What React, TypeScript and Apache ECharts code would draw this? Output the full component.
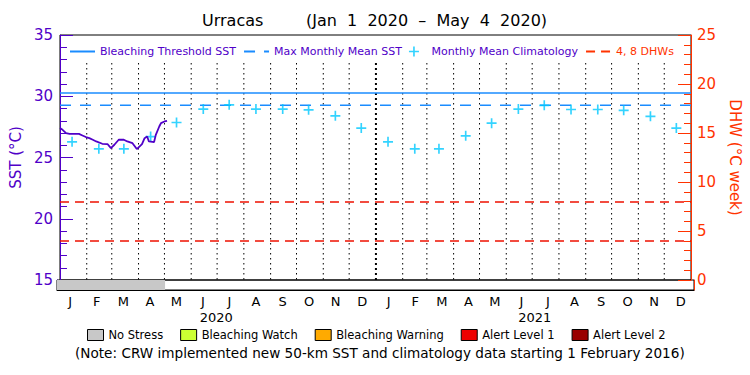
import React, { useEffect, useRef } from "react";
import * as echarts from "echarts";

const FONT = "DejaVu Sans";
const PURPLE = "#5000c8";
const RED = "#ff3300";
const DHW_RED = "#ee1100";
const BLUE = "#1a8cff";
const CYAN = "#00c8ff";

const START = "2020-01-01";
const END = "2022-01-01";

// SST (°C) observed, Jan 1 – May 4 2020
const sstDates = [
  "2020-01-01", "2020-01-04", "2020-01-08", "2020-01-12", "2020-01-23", "2020-01-27",
  "2020-01-31", "2020-02-04", "2020-02-08", "2020-02-12", "2020-02-19", "2020-02-25",
  "2020-02-29", "2020-03-04", "2020-03-09", "2020-03-15", "2020-03-19", "2020-03-25",
  "2020-03-30", "2020-04-05", "2020-04-08", "2020-04-11", "2020-04-13", "2020-04-19",
  "2020-04-21", "2020-04-25", "2020-04-27", "2020-05-01", "2020-05-04",
];
const sstValues = [
  27.4, 27.26, 26.99, 26.93, 26.93, 26.8,
  26.67, 26.58, 26.45, 26.31, 26.12, 26.1,
  25.77, 26.04, 26.45, 26.45, 26.31, 26.17,
  25.69, 26.1, 26.58, 26.71, 26.31, 26.26,
  26.85, 27.53, 27.81, 27.94, 27.99,
];

// Monthly mean climatology (plotted mid-month)
const climDates = [
  "2020-01-15", "2020-02-15", "2020-03-15", "2020-04-15", "2020-05-15", "2020-06-15",
  "2020-07-15", "2020-08-15", "2020-09-15", "2020-10-15", "2020-11-15", "2020-12-15",
  "2021-01-15", "2021-02-15", "2021-03-15", "2021-04-15", "2021-05-15", "2021-06-15",
  "2021-07-15", "2021-08-15", "2021-09-15", "2021-10-15", "2021-11-15", "2021-12-15",
];
const climValues = [
  26.28, 25.71, 25.71, 26.71, 27.86, 28.95, 29.3, 28.95, 28.95, 28.89, 28.4, 27.4,
  26.28, 25.71, 25.71, 26.77, 27.8, 28.95, 29.26, 28.92, 28.92, 28.85, 28.36, 27.4,
];

const MMM = 29.27; // Max Monthly Mean SST
const BLEACH_THRESHOLD = 30.27;
const dhwLevels = [4, 8];

// Month boundaries (dotted lines); the year boundary is drawn denser
const monthStarts = [
  "2020-02-01", "2020-03-01", "2020-04-01", "2020-05-01", "2020-06-01", "2020-07-01",
  "2020-08-01", "2020-09-01", "2020-10-01", "2020-11-01", "2020-12-01", "2021-01-01",
  "2021-02-01", "2021-03-01", "2021-04-01", "2021-05-01", "2021-06-01", "2021-07-01",
  "2021-08-01", "2021-09-01", "2021-10-01", "2021-11-01", "2021-12-01",
];
const yearBoundary = "2021-01-01";

const monthNames = ["Jan", "Feb", "Mar", "Apr", "May", "Jun", "Jul", "Aug", "Sep", "Oct", "Nov", "Dec"];
const years = ["2020", "2021"];

const sstTicks = { min: 15, max: 35, interval: 5 };
const dhwTicks = { min: 0, max: 25, interval: 5 };

// Stress level periods
const stressNames = ["No Stress", "Bleaching Watch", "Bleaching Warning", "Alert Level 1", "Alert Level 2"];
const stressColors = ["#c8c8c8", "#ccff33", "#ffaa00", "#ee0000", "#990000"];
const stressPeriods = [{ start: "2020-01-01", end: "2020-05-04", level: 0 }];

const TITLE_SITE = "Urracas";
const TITLE_RANGE = "(Jan  1  2020  –  May  4  2020)";
const NOTE = "(Note: CRW implemented new 50-km SST and climatology data starting 1 February 2016)";

const t = (s: string) => Date.parse(s);

const PLUS = "path://M5,0H7V5H12V7H7V12H5V7H0V5H5Z";
const HIDDEN_SYMBOL = { color: "rgba(0,0,0,0)", borderColor: "rgba(0,0,0,0)", borderWidth: 0, opacity: 0 };

export default function App() {
  const ref = useRef<HTMLDivElement>(null);
  useEffect(() => {
    if (!ref.current) return;
    const chart = echarts.init(ref.current, null, { renderer: "svg" });
    const categories: string[] = [];
    years.forEach((y) => monthNames.forEach((m) => categories.push(m + " " + y)));

    const stressSeries = stressNames.map((name, li) => ({
      name,
      type: "custom",
      xAxisIndex: 1,
      yAxisIndex: 2,
      itemStyle: { color: stressColors[li] },
      data: stressPeriods.filter((p) => p.level === li).map((p) => [t(p.start), t(p.end), 0.5]),
      encode: { x: [0, 1], y: 2 },
      renderItem: (params: any, api: any) => {
        const cs = params.coordSys;
        const x1 = api.coord([api.value(0), 0.5])[0];
        const x2 = api.coord([api.value(1), 0.5])[0];
        return {
          type: "rect",
          shape: { x: x1, y: cs.y, width: x2 - x1, height: cs.height },
          style: { fill: api.visual("color") },
        };
      },
      silent: true,
    }));

    const option: any = {
      animation: false,
      backgroundColor: "#fff",
      textStyle: { fontFamily: FONT },
      title: [
        { text: TITLE_SITE, left: 202, top: 12, padding: 0, textStyle: { fontFamily: FONT, fontSize: 16, fontWeight: "normal", color: "#000" } },
        { text: TITLE_RANGE, left: 306, top: 12, padding: 0, textStyle: { fontFamily: FONT, fontSize: 16, fontWeight: "normal", color: "#000" } },
        { text: NOTE, left: 75, top: 346, padding: 0, textStyle: { fontFamily: FONT, fontSize: 13.6, fontWeight: "normal", color: "#000" } },
      ],
      legend: [
        {
          left: 69,
          top: 46,
          padding: 0,
          itemGap: 7,
          itemWidth: 25,
          itemHeight: 10,
          selectedMode: false,
          textStyle: { fontFamily: FONT, fontSize: 11, color: PURPLE },
          data: [
            { name: "Bleaching Threshold SST", itemStyle: HIDDEN_SYMBOL },
            { name: "Max Monthly Mean SST", itemStyle: HIDDEN_SYMBOL },
            { name: "Monthly Mean Climatology" },
            { name: "4, 8 DHWs", itemStyle: HIDDEN_SYMBOL, textStyle: { color: RED } },
          ],
        },
        {
          left: 87,
          top: 329,
          padding: 0,
          itemGap: 17,
          itemWidth: 16,
          itemHeight: 11,
          icon: "rect",
          selectedMode: false,
          itemStyle: { borderColor: "#000", borderWidth: 1 },
          textStyle: { fontFamily: FONT, fontSize: 11.5, color: "#000" },
          data: stressNames.map((n) => ({ name: n })),
        },
      ],
      grid: [
        { left: 57, right: 56, top: 35, height: 245, show: true, borderColor: "#000", borderWidth: 1, backgroundColor: "transparent" },
        { left: 57, right: 56, top: 280, height: 10, show: true, borderColor: "#000", borderWidth: 1, backgroundColor: "transparent" },
      ],
      xAxis: [
        { type: "time", gridIndex: 0, min: t(START), max: t(END), show: false },
        { type: "time", gridIndex: 1, min: t(START), max: t(END), show: false, position: "top" },
        {
          type: "category",
          gridIndex: 1,
          position: "bottom",
          data: categories,
          boundaryGap: true,
          axisLine: { show: true, lineStyle: { color: "#000", width: 1 } },
          axisTick: { show: false },
          splitLine: { show: false },
          axisLabel: {
            interval: 0,
            margin: 5,
            fontFamily: FONT,
            fontSize: 13,
            color: "#000",
            formatter: (v: string) => v.charAt(0),
          },
        },
        {
          type: "category",
          gridIndex: 1,
          position: "bottom",
          offset: 16,
          data: years,
          axisLine: { show: false },
          axisTick: { show: false },
          splitLine: { show: false },
          axisLabel: { interval: 0, margin: 5, fontFamily: FONT, fontSize: 13, color: "#000" },
        },
      ],
      yAxis: [
        {
          type: "value",
          gridIndex: 0,
          position: "left",
          min: sstTicks.min,
          max: sstTicks.max,
          interval: sstTicks.interval,
          name: "SST (°C)",
          nameLocation: "middle",
          nameRotate: 90,
          nameGap: 32,
          nameTextStyle: { color: PURPLE, fontFamily: FONT, fontSize: 15 },
          axisLine: { show: true, lineStyle: { color: PURPLE, width: 1 } },
          axisTick: { show: true, inside: true, length: 13, lineStyle: { color: PURPLE } },
          minorTick: { show: true, splitNumber: 5, length: 7, lineStyle: { color: PURPLE } },
          splitLine: { show: false },
          axisLabel: { color: PURPLE, fontFamily: FONT, fontSize: 15, margin: 7 },
        },
        {
          type: "value",
          gridIndex: 0,
          position: "right",
          min: dhwTicks.min,
          max: dhwTicks.max,
          interval: dhwTicks.interval,
          name: "DHW (°C week)",
          nameLocation: "middle",
          nameRotate: -90,
          nameGap: 26,
          nameTextStyle: { color: RED, fontFamily: FONT, fontSize: 15 },
          axisLine: { show: true, lineStyle: { color: RED, width: 1 } },
          axisTick: { show: true, inside: true, length: 13, lineStyle: { color: RED } },
          minorTick: { show: true, splitNumber: 5, length: 7, lineStyle: { color: RED } },
          splitLine: { show: false },
          axisLabel: { color: RED, fontFamily: FONT, fontSize: 15, margin: 6 },
        },
        {
          type: "value",
          gridIndex: 1,
          position: "left",
          min: 0,
          max: 1,
          axisLine: { show: true, lineStyle: { color: PURPLE, width: 1 } },
          axisTick: { show: false },
          axisLabel: { show: false },
          splitLine: { show: false },
        },
        {
          type: "value",
          gridIndex: 1,
          position: "right",
          min: 0,
          max: 1,
          axisLine: { show: true, lineStyle: { color: RED, width: 1 } },
          axisTick: { show: false },
          axisLabel: { show: false },
          splitLine: { show: false },
        },
      ],
      series: [
        {
          name: "monthGrid",
          type: "custom",
          xAxisIndex: 0,
          yAxisIndex: 0,
          silent: true,
          z: 1,
          data: monthStarts.map((d) => [t(d), d === yearBoundary ? 1 : 0]),
          encode: { x: 0 },
          renderItem: (params: any, api: any) => {
            const cs = params.coordSys;
            const x = api.coord([api.value(0), 20])[0];
            const isYear = api.value(1) === 1;
            return {
              type: "line",
              shape: { x1: x, y1: cs.y + 28, x2: x, y2: cs.y + cs.height },
              style: {
                stroke: "#000",
                lineWidth: isYear ? 2 : 1,
                lineDash: isYear ? [2, 3] : [1.5, 3.5],
              },
            };
          },
        },
        {
          name: "Bleaching Threshold SST",
          type: "line",
          xAxisIndex: 0,
          yAxisIndex: 0,
          symbol: "none",
          color: BLUE,
          lineStyle: { color: BLUE, width: 1.5 },
          data: [[t(START), BLEACH_THRESHOLD], [t(END), BLEACH_THRESHOLD]],
        },
        {
          name: "Max Monthly Mean SST",
          type: "line",
          xAxisIndex: 0,
          yAxisIndex: 0,
          symbol: "none",
          color: BLUE,
          lineStyle: { color: BLUE, width: 1.5, type: [11, 9] },
          data: [[t(START), MMM], [t(END), MMM]],
        },
        {
          name: "Monthly Mean Climatology",
          type: "scatter",
          xAxisIndex: 0,
          yAxisIndex: 0,
          symbol: PLUS,
          symbolSize: 10,
          symbolKeepAspect: true,
          itemStyle: { color: CYAN },
          z: 3,
          data: climDates.map((d, i) => [t(d), climValues[i]]),
        },
        {
          name: "4, 8 DHWs",
          type: "line",
          xAxisIndex: 0,
          yAxisIndex: 1,
          symbol: "none",
          color: RED,
          lineStyle: { color: RED, width: 1.5, type: [9, 6] },
          data: [],
          markLine: {
            silent: true,
            symbol: "none",
            label: { show: false },
            lineStyle: { color: DHW_RED, opacity: 1, width: 1.5, type: [9, 6] },
            data: dhwLevels.map((v) => ({ yAxis: v, lineStyle: { color: DHW_RED, opacity: 1 } })),
          },
        },
        {
          name: "SST",
          type: "line",
          xAxisIndex: 0,
          yAxisIndex: 0,
          symbol: "none",
          z: 4,
          color: PURPLE,
          lineStyle: { color: PURPLE, width: 1.8 },
          data: sstDates.map((d, i) => [t(d), sstValues[i]]),
        },
        ...stressSeries,
      ],
    };
    chart.setOption(option);
    return () => chart.dispose();
  }, []);
  return (
    <div
      ref={ref}
      style={{ position: "fixed", left: 0, top: 0, width: 750, height: 375, background: "#fff" }}
    />
  );
}
